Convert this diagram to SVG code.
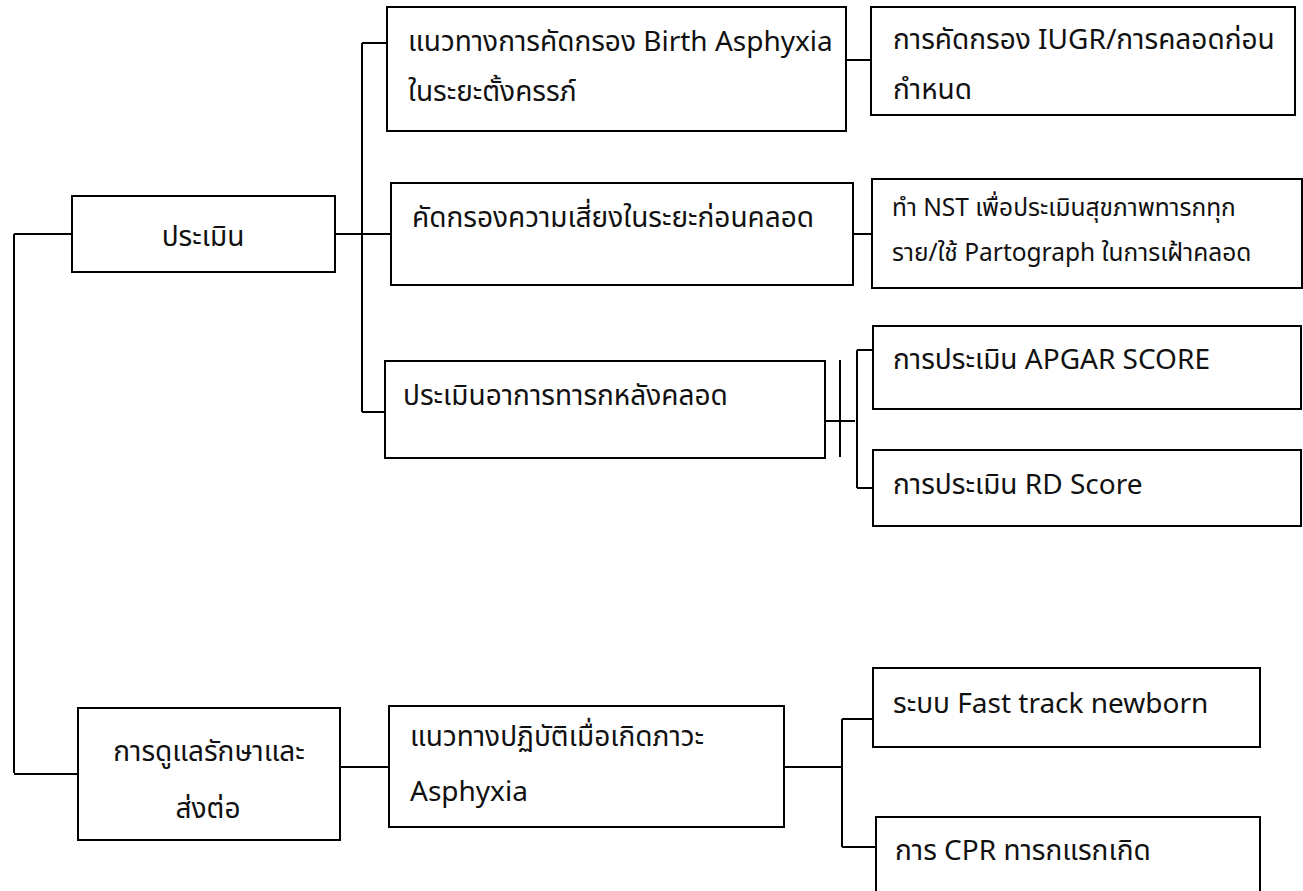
<svg xmlns="http://www.w3.org/2000/svg" width="1303" height="891" viewBox="0 0 1303 891">
<style>
.box{fill:#fff;stroke:#000;stroke-width:2}
.ln{fill:none;stroke:#000;stroke-width:2}
text{font-family:"Noto Sans Thai","Noto Sans","Liberation Sans",sans-serif;font-size:28px;fill:#111}
.sm{font-size:24.5px}
.c{text-anchor:middle}
</style>
<rect width="1303" height="891" fill="#fff"/>
<g id="connectors">
<path class="ln" d="M14,234 V773 M14,234 H72 M14,774 H78"/>
<path class="ln" d="M335,234 H391 M362,43 V412 M362,43 H387 M362,412 H385"/>
<path class="ln" d="M846,60 H871"/>
<path class="ln" d="M853,234 H872"/>
<path class="ln" d="M825,421 H855 M840,360 V457 M857,350 V488 M857,350 H873 M857,488 H873"/>
<path class="ln" d="M340,767 H389"/>
<path class="ln" d="M784,767 H842 M842,719 V847 M842,719 H873 M842,847 H876"/>
</g>
<g id="n1"><rect class="box" x="72" y="196" width="263" height="76"/><text class="c" x="203" y="246">ประเมิน</text></g>
<g id="n2"><rect class="box" x="387" y="7" width="459" height="124"/><text x="408" y="51">แนวทางการคัดกรอง Birth Asphyxia</text><text x="408" y="101">ในระยะตั้งครรภ์</text></g>
<g id="n3"><rect class="box" x="391" y="183" width="462" height="102"/><text x="412" y="227">คัดกรองความเสี่ยงในระยะก่อนคลอด</text></g>
<g id="n4"><rect class="box" x="385" y="361" width="440" height="97"/><text x="403" y="405">ประเมินอาการทารกหลังคลอด</text></g>
<g id="n5"><rect class="box" x="871" y="7" width="424" height="108"/><text x="893" y="49">การคัดกรอง IUGR/การคลอดก่อน</text><text x="893" y="99">กำหนด</text></g>
<g id="n6"><rect class="box" x="872" y="179" width="430" height="109"/><text class="sm" x="892" y="216">ทำ NST เพื่อประเมินสุขภาพทารกทุก</text><text class="sm" x="892" y="261">ราย/ใช้ Partograph ในการเฝ้าคลอด</text></g>
<g id="n7"><rect class="box" x="873" y="326" width="428" height="83"/><text x="893" y="369">การประเมิน APGAR SCORE</text></g>
<g id="n8"><rect class="box" x="873" y="450" width="428" height="76"/><text x="893" y="494">การประเมิน RD Score</text></g>
<g id="n9"><rect class="box" x="78" y="708" width="262" height="132"/><text class="c" x="209" y="761">การดูแลรักษาและ</text><text class="c" x="208" y="818">ส่งต่อ</text></g>
<g id="n10"><rect class="box" x="389" y="706" width="395" height="121"/><text x="410" y="746">แนวทางปฏิบัติเมื่อเกิดภาวะ</text><text x="410" y="801">Asphyxia</text></g>
<g id="n11"><rect class="box" x="873" y="668" width="387" height="79"/><text x="893" y="713">ระบบ Fast track newborn</text></g>
<g id="n12"><rect class="box" x="876" y="817" width="384" height="84"/><text x="895" y="860">การ CPR ทารกแรกเกิด</text></g>
</svg>
